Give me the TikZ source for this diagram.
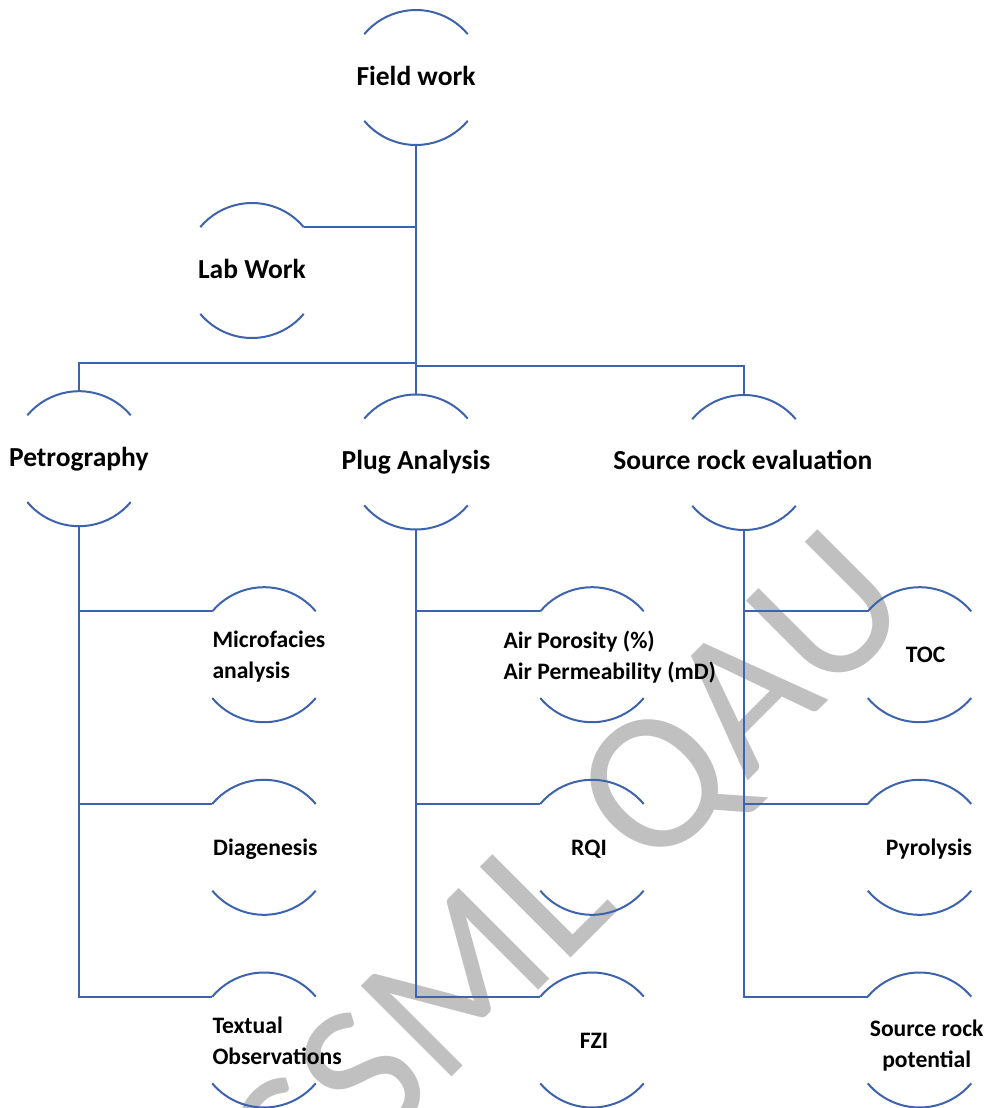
\documentclass[tikz,border=0pt]{standalone}
\usepackage{fontspec}
\setmainfont{Carlito}
\definecolor{lineblue}{RGB}{62,99,173}
\definecolor{wmgray}{RGB}{192,192,192}
\begin{document}
\begin{tikzpicture}[x=1pt,y=-1pt,
  bub/.style={circle, minimum size=135pt, inner sep=0pt, outer sep=0pt, draw=none},
  conn/.style={draw=lineblue, line width=2pt},
  arcline/.style={draw=lineblue, line width=2pt},
  lvlone/.style={font=\bfseries\fontsize{27.5}{33}\selectfont, inner sep=0pt, anchor=base},
  lvltwo/.style={font=\bfseries\fontsize{23.6}{30.6}\selectfont, inner sep=0pt},
  wmark/.style={font=\fontsize{200}{200}\selectfont, text=wmgray, rotate=45, inner sep=0pt}
]
\useasboundingbox (0,0) rectangle (991,1108);
% watermark
\node[wmark] (wm) at (578,878) {SSML QAU};
% bubbles
\node[bub] (fw) at (416,77.5) {};
\node[bub] (lw) at (252,270.5) {};
\node[bub] (pe) at (79,458.7) {};
\node[bub] (pa) at (416,462) {};
\node[bub] (sr) at (744,462.5) {};
\node[bub] (mf) at (264,654.7) {};
\node[bub] (dg) at (264,847.3) {};
\node[bub] (to) at (264,1040) {};
\node[bub] (ap) at (592,654.7) {};
\node[bub] (rq) at (592,847.3) {};
\node[bub] (fz) at (592,1040) {};
\node[bub] (tc) at (919.5,654.7) {};
\node[bub] (py) at (919.5,847.3) {};
\node[bub] (sp) at (919.5,1040) {};
\foreach \n in {fw,lw,pe,pa,sr,mf,dg,to,ap,rq,fz,tc,py,sp}{
  \draw[arcline] (\n.40) arc[start angle=40,end angle=140,radius=67.5pt];
  \draw[arcline] (\n.220) arc[start angle=220,end angle=320,radius=67.5pt];
}
% labels
\node[lvlone] (fwt) at (416,85) {Field work};
\node[lvlone] (lwt) at (252,278.3) {Lab Work};
\node[lvlone] (pet) at (78.8,466.7) {Petrography};
\node[lvlone] (pat) at (416,469.3) {Plug Analysis};
\node[lvlone] (srt) at (742.8,469.3) {Source rock evaluation};
\node[lvltwo, anchor=base west, align=left] (mft) at (212.3,678.3) {Microfacies\\analysis};
\node[lvltwo, anchor=base west] (dgt) at (213,855.3) {Diagenesis};
\node[lvltwo, anchor=base west, align=left] (tot) at (212.3,1064) {Textual\\Observations};
\node[lvltwo, anchor=base west, align=left] (apt) at (503.3,679) {Air Porosity (\%)\\Air Permeability (mD)};
\node[lvltwo, anchor=base] (rqt) at (589,855.3) {RQI};
\node[lvltwo, anchor=base] (fzt) at (594,1048) {FZI};
\node[lvltwo, anchor=base] (tct) at (925.5,662.7) {TOC};
\node[lvltwo, anchor=base] (pyt) at (929,855.3) {Pyrolysis};
\node[lvltwo, anchor=base, align=center] (spt) at (926.7,1067.3) {Source rock\\potential};
% connectors
\coordinate (jL) at (416,362.7);
\coordinate (jR) at (416,366);
\draw[conn] (fw.south) -- (pa.north);
\draw[conn] (lw.40) -- (lw.40 -| fw.south);
\draw[conn] (pe.north) |- (jL);
\draw[conn] (sr.north) |- (jR);
\draw[conn] (pe.south) |- (to.140);
\draw[conn] (pe.south |- mf.140) -- (mf.140);
\draw[conn] (pe.south |- dg.140) -- (dg.140);
\draw[conn] (pa.south) |- (fz.140);
\draw[conn] (pa.south |- ap.140) -- (ap.140);
\draw[conn] (pa.south |- rq.140) -- (rq.140);
\draw[conn] (sr.south) |- (sp.140);
\draw[conn] (sr.south |- tc.140) -- (tc.140);
\draw[conn] (sr.south |- py.140) -- (py.140);
\end{tikzpicture}
\end{document}
